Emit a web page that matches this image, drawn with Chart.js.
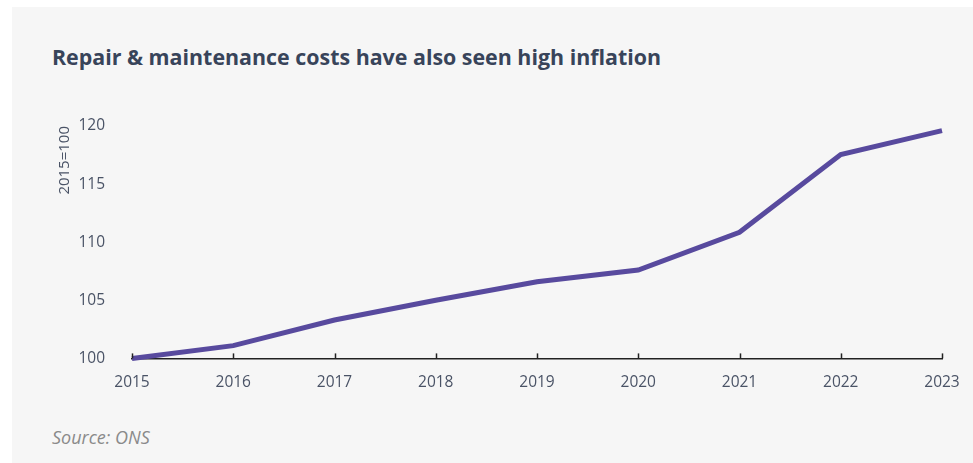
<!DOCTYPE html>
<html>
<head>
<meta charset="utf-8">
<script src="https://cdn.jsdelivr.net/npm/chart.js@4"></script>
<style>
  html, body { margin: 0; padding: 0; background: #ffffff; }
  #panel { position: absolute; left: 12px; top: 7px; width: 961px; height: 456px; background: #f6f6f6; }
  #title { position: absolute; left: 52px; top: 42px; font-family: "Open Sans", sans-serif; font-weight: 700; font-size: 21.4px; color: #38445a; white-space: nowrap; }
  #source { position: absolute; left: 52px; top: 425px; font-family: "Open Sans", sans-serif; font-style: italic; font-size: 18px; color: #8a8a8a; white-space: nowrap; line-height: 24px; }
  #wrap { position: absolute; left: 0; top: 0; width: 973px; height: 463px; }
</style>
</head>
<body>
<div id="panel"></div>
<div id="title">Repair &amp; maintenance costs have also seen high inflation</div>
<div id="source">Source: ONS</div>
<div id="wrap"><canvas id="c" width="973" height="463"></canvas></div>
<script>
const years = ['2015','2016','2017','2018','2019','2020','2021','2022','2023'];
const repairIndex = [100, 101.1, 103.3, 105.0, 106.6, 107.6, 110.85, 117.55, 119.6];
const yTicks = [100, 105, 110, 115, 120];
const yAxisTitle = '2015=100';

const upTicks = {
  id: 'upTicks',
  afterDraw(chart) {
    const xs = chart.scales.x;
    const ctx = chart.ctx;
    ctx.save();
    ctx.strokeStyle = '#222222';
    ctx.lineWidth = 1.5;
    const y = chart.chartArea.bottom;
    xs.ticks.forEach((t, i) => {
      const px = Math.round(xs.getPixelForTick(i)) + 0.5;
      ctx.beginPath();
      ctx.moveTo(px, y);
      ctx.lineTo(px, y - 5);
      ctx.stroke();
    });
    ctx.restore();
  }
};

new Chart(document.getElementById('c'), {
  type: 'line',
  data: {
    labels: years,
    datasets: [{
      data: repairIndex,
      borderColor: '#584a9e',
      borderWidth: 5,
      pointRadius: 0,
      tension: 0,
      clip: false
    }]
  },
  options: {
    responsive: false,
    animation: false,
    layout: { padding: { left: 52, right: 31, top: 126, bottom: 64 } },
    plugins: { legend: { display: false }, tooltip: { enabled: false } },
    scales: {
      x: {
        offset: false,
        grid: { display: false },
        border: { display: true, color: '#222222', width: 1.5 },
        ticks: { color: '#4a5366', padding: 7, maxRotation: 0, font: { family: 'Open Sans', size: 15.5 } }
      },
      y: {
        min: 100, max: 120,
        afterBuildTicks(scale) { scale.ticks = yTicks.map(v => ({ value: v })); },
        afterFit(scale) { scale.width = 80; },
        grid: { display: false },
        border: { display: false },
        ticks: { color: '#4a5366', padding: 19, font: { family: 'Open Sans', size: 15.5 } },
        title: { display: true, text: yAxisTitle, align: 'end', color: '#4a5366', padding: { top: 4, bottom: 0 }, font: { family: 'Open Sans', size: 15 } }
      }
    }
  },
  plugins: [upTicks]
});
</script>
</body>
</html>
